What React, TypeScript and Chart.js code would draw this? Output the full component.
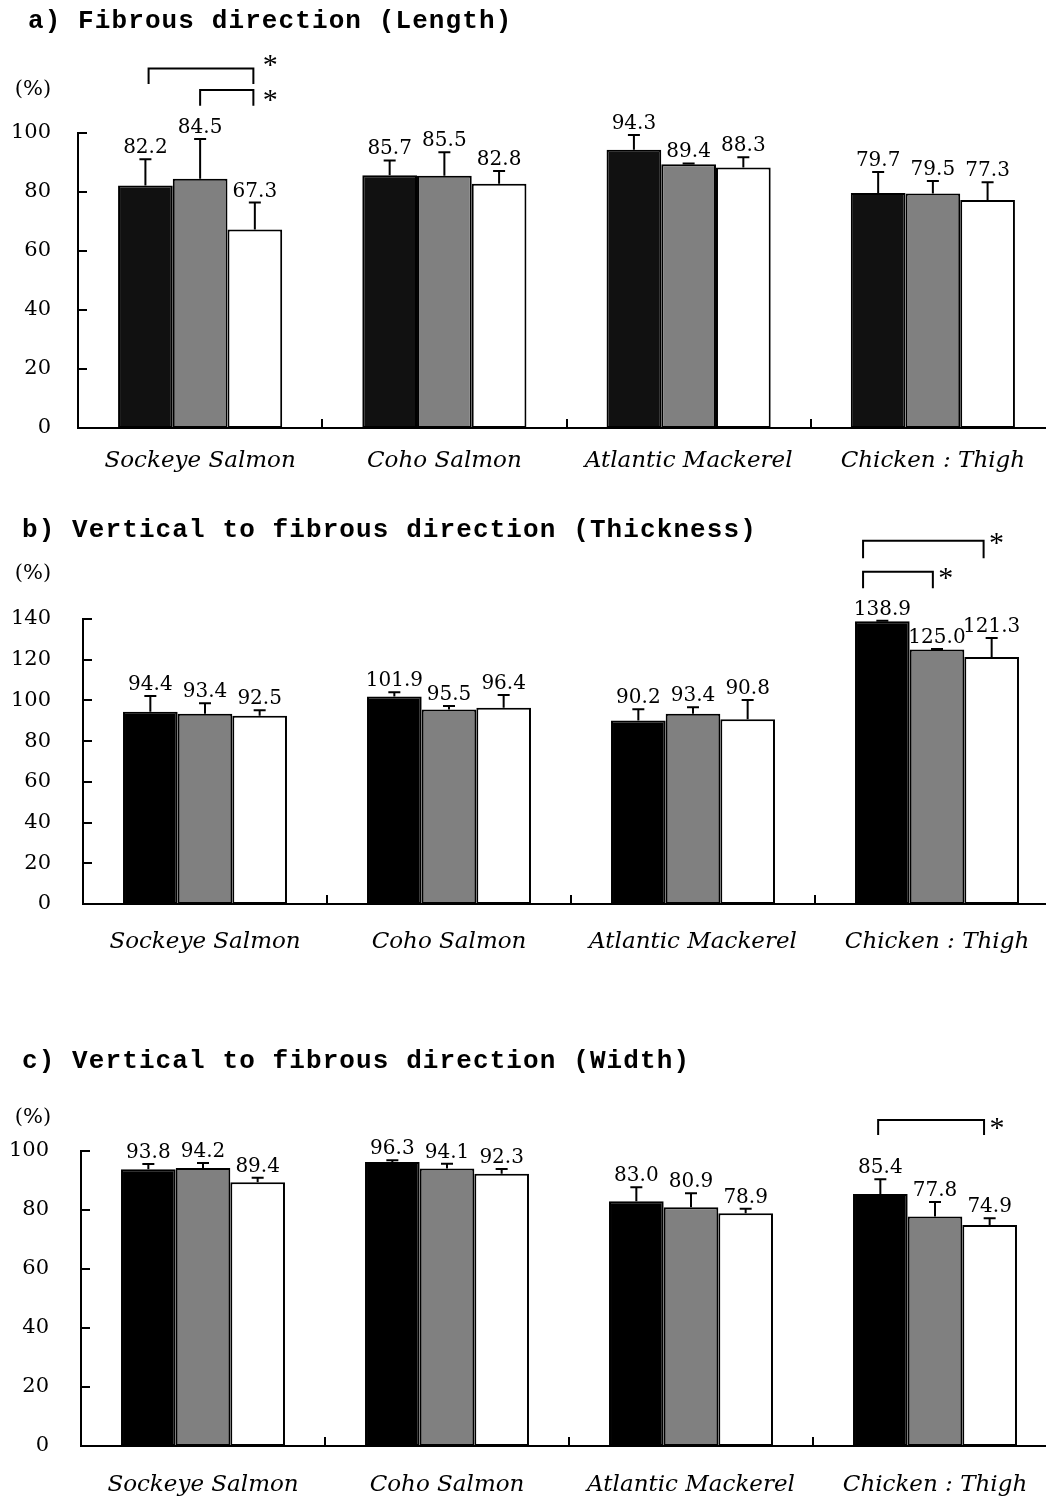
import React, { useEffect, useRef } from "react";
import { Chart, registerables } from "chart.js";

Chart.register(...registerables);

// ---------- data ----------
const categories = ["Sockeye Salmon", "Coho Salmon", "Atlantic Mackerel", "Chicken : Thigh"];
const seriesNames = ["Condition 1", "Condition 2", "Condition 3"];
const yTicksLength = [0, 20, 40, 60, 80, 100];
const yTicksThickness = [0, 20, 40, 60, 80, 100, 120, 140];
const yTicksWidth = [0, 20, 40, 60, 80, 100];

// a) Fibrous direction (Length)
const lengthS1 = [82.2, 85.7, 94.3, 79.7];
const lengthS1Sd = [8.9, 5.0, 5.0, 7.1];
const lengthS2 = [84.5, 85.5, 89.4, 79.5];
const lengthS2Sd = [13.5, 8.0, 0.3, 4.2];
const lengthS3 = [67.3, 82.8, 88.3, 77.3];
const lengthS3Sd = [9.1, 4.3, 3.5, 6.0];

// b) Vertical to fibrous direction (Thickness)
const thickS1 = [94.4, 101.9, 90.2, 138.9];
const thickS1Sd = [7.8, 2.1, 5.5, 0.2];
const thickS2 = [93.4, 95.5, 93.4, 125.0];
const thickS2Sd = [5.2, 1.8, 3.3, 0.3];
const thickS3 = [92.5, 96.4, 90.8, 121.3];
const thickS3Sd = [2.7, 6.3, 9.4, 9.4];

// c) Vertical to fibrous direction (Width)
const widthS1 = [93.8, 96.3, 83.0, 85.4];
const widthS1Sd = [1.8, 0.6, 4.7, 5.0];
const widthS2 = [94.2, 94.1, 80.9, 77.8];
const widthS2Sd = [1.7, 1.6, 4.8, 4.9];
const widthS3 = [89.4, 92.3, 78.9, 74.9];
const widthS3Sd = [1.5, 1.6, 1.5, 2.3];

// significance brackets: category positions (fractional index) and y values
const lengthBrackets = [
  { from: -0.211, to: 0.218, top: 121.9, bottom: 116.6, star: 125.1 },
  { from: 0.0, to: 0.218, top: 114.6, bottom: 109.2, star: 113.2 },
];
const thickBrackets = [
  { from: 2.697, to: 3.191, top: 178.5, bottom: 169.9, star: 180.3 },
  { from: 2.697, to: 2.983, top: 163.2, bottom: 155.1, star: 163.1 },
];
const widthBrackets = [{ from: 2.767, to: 3.201, top: 110.5, bottom: 105.4, star: 109.9 }];

// ---------- layout / style ----------
const CANVAS_W = 1070;
const SERIF = "'DejaVu Serif', serif";

type Bracket = { from: number; to: number; top: number; bottom: number; star: number };
type Panel = {
  title: string;
  values: number[][];
  sds: number[][];
  colors: string[];
  yMax: number;
  yTicks: number[];
  brackets: Bracket[];
  top: number;
  height: number;
  left: number;
  right: number;
  areaTop: number;
  areaBottom: number;
  yPad: number;
  xPad: number;
  titleX: number;
  titleBase: number;
  pctY: number;
  starDx: number;
};

const panels: Panel[] = [
  {
    title: "a) Fibrous direction (Length)",
    values: [lengthS1, lengthS2, lengthS3],
    sds: [lengthS1Sd, lengthS2Sd, lengthS3Sd],
    colors: ["#111111", "#808080", "#ffffff"],
    yMax: 100,
    yTicks: yTicksLength,
    brackets: lengthBrackets,
    top: 0,
    height: 490,
    left: 78,
    right: 1055,
    areaTop: 133,
    areaBottom: 428,
    yPad: 27,
    xPad: 19,
    titleX: 28,
    titleBase: 28,
    pctY: 90,
    starDx: 17,
  },
  {
    title: "b) Vertical to fibrous direction (Thickness)",
    values: [thickS1, thickS2, thickS3],
    sds: [thickS1Sd, thickS2Sd, thickS3Sd],
    colors: ["#000000", "#808080", "#ffffff"],
    yMax: 140,
    yTicks: yTicksThickness,
    brackets: thickBrackets,
    top: 490,
    height: 520,
    left: 83,
    right: 1059,
    areaTop: 619,
    areaBottom: 904,
    yPad: 32,
    xPad: 24,
    titleX: 22,
    titleBase: 537,
    pctY: 574,
    starDx: 13,
  },
  {
    title: "c) Vertical to fibrous direction (Width)",
    values: [widthS1, widthS2, widthS3],
    sds: [widthS1Sd, widthS2Sd, widthS3Sd],
    colors: ["#000000", "#808080", "#ffffff"],
    yMax: 100,
    yTicks: yTicksWidth,
    brackets: widthBrackets,
    top: 1010,
    height: 489,
    left: 81,
    right: 1057,
    areaTop: 1151,
    areaBottom: 1446,
    yPad: 32,
    xPad: 25,
    titleX: 22,
    titleBase: 1068,
    pctY: 1118,
    starDx: 13,
  },
];

function PanelChart({ p }: { p: Panel }) {
  const ref = useRef<HTMLCanvasElement | null>(null);

  useEffect(() => {
    const canvas = ref.current;
    if (!canvas) return;

    const annotate = {
      id: "annotate",
      afterDatasetsDraw(chart: any) {
        const ctx: CanvasRenderingContext2D = chart.ctx;
        const xs = chart.scales.x;
        const ys = chart.scales.y;
        const area = chart.chartArea;
        ctx.save();
        ctx.strokeStyle = "#000";
        ctx.fillStyle = "#000";
        ctx.lineWidth = 2;

        // error bars and value labels
        chart.data.datasets.forEach((ds: any, i: number) => {
          const meta = chart.getDatasetMeta(i);
          meta.data.forEach((el: any, j: number) => {
            const v = ds.data[j] as number;
            const sd = p.sds[i][j];
            const yTop = ys.getPixelForValue(v + sd);
            ctx.beginPath();
            ctx.moveTo(el.x, el.y);
            ctx.lineTo(el.x, yTop);
            ctx.moveTo(el.x - 6, yTop);
            ctx.lineTo(el.x + 6, yTop);
            ctx.stroke();
            ctx.font = `20px ${SERIF}`;
            ctx.textAlign = "center";
            ctx.textBaseline = "alphabetic";
            ctx.fillText(v.toFixed(1), el.x, yTop - 6);
          });
        });

        // inward y ticks
        ys.ticks.forEach((t: any) => {
          const py = Math.round(ys.getPixelForValue(t.value));
          ctx.beginPath();
          ctx.moveTo(area.left, py);
          ctx.lineTo(area.left + 9, py);
          ctx.stroke();
        });

        // category boundary ticks on x axis
        for (let k = 1; k < categories.length; k++) {
          const px = Math.round(xs.getPixelForValue(k - 0.5));
          ctx.beginPath();
          ctx.moveTo(px, area.bottom);
          ctx.lineTo(px, area.bottom - 9);
          ctx.stroke();
        }

        // significance brackets
        p.brackets.forEach((b) => {
          const xl = xs.getPixelForValue(b.from);
          const xr = xs.getPixelForValue(b.to);
          const yt = ys.getPixelForValue(b.top);
          const yb = ys.getPixelForValue(b.bottom);
          ctx.beginPath();
          ctx.moveTo(xl, yb);
          ctx.lineTo(xl, yt);
          ctx.lineTo(xr, yt);
          ctx.lineTo(xr, yb);
          ctx.stroke();
          ctx.font = `30px 'Liberation Serif', serif`;
          ctx.textAlign = "center";
          ctx.textBaseline = "alphabetic";
          ctx.fillText("*", xr + p.starDx, ys.getPixelForValue(b.star) + 15);
        });

        // title
        ctx.font = `bold 26px 'Liberation Mono', 'Courier New', monospace`;
        (ctx as any).letterSpacing = "1.1px";
        ctx.textAlign = "left";
        ctx.textBaseline = "alphabetic";
        ctx.fillText(p.title, p.titleX, p.titleBase - p.top);
        (ctx as any).letterSpacing = "0px";

        // unit label
        ctx.font = `21px ${SERIF}`;
        ctx.textAlign = "center";
        ctx.textBaseline = "middle";
        ctx.fillText("(%)", 33, p.pctY - p.top);

        ctx.restore();
      },
    };

    const chart = new Chart(canvas, {
      type: "bar",
      data: {
        labels: categories,
        datasets: p.values.map((vals, i) => ({
          label: seriesNames[i],
          data: vals,
          backgroundColor: p.colors[i],
          borderColor: "#000",
          borderWidth: 2,
          borderSkipped: false,
          barPercentage: 1.0,
          categoryPercentage: 0.672,
        })),
      },
      options: {
        animation: false,
        responsive: false,
        devicePixelRatio: 1,
        layout: {
          padding: {
            left: 0,
            top: p.areaTop - p.top,
            right: CANVAS_W - p.right,
            bottom: 0,
          },
        },
        plugins: {
          legend: { display: false },
          tooltip: { enabled: false },
          title: { display: false },
        },
        scales: {
          x: {
            type: "category",
            grid: { display: false, drawTicks: false, tickLength: 0 },
            border: { display: true, color: "#000", width: 2 },
            ticks: {
              color: "#000",
              autoSkip: false,
              maxRotation: 0,
              padding: p.xPad,
              font: { family: SERIF, size: 23, style: "italic" },
            },
            afterFit: (scale: any) => {
              scale.height = p.top + p.height - p.areaBottom;
            },
          },
          y: {
            type: "linear",
            min: 0,
            max: p.yMax,
            afterBuildTicks: (scale: any) => {
              scale.ticks = p.yTicks.map((v) => ({ value: v }));
            },
            grid: { display: false, drawTicks: false, tickLength: 0 },
            border: { display: true, color: "#000", width: 2 },
            ticks: {
              color: "#000",
              padding: p.yPad,
              font: { family: SERIF, size: 21 },
            },
            afterFit: (scale: any) => {
              scale.width = p.left;
            },
          },
        },
      },
      plugins: [annotate],
    } as any);

    return () => chart.destroy();
  }, [p]);

  return (
    <canvas
      ref={ref}
      width={CANVAS_W}
      height={p.height}
      style={{ position: "absolute", left: 0, top: p.top, width: CANVAS_W, height: p.height }}
    />
  );
}

export default function App() {
  return (
    <div
      style={{
        position: "absolute",
        left: 0,
        top: 0,
        width: 1046,
        height: 1499,
        overflow: "hidden",
        background: "#fff",
      }}
    >
      {panels.map((p, i) => (
        <PanelChart key={i} p={p} />
      ))}
    </div>
  );
}
